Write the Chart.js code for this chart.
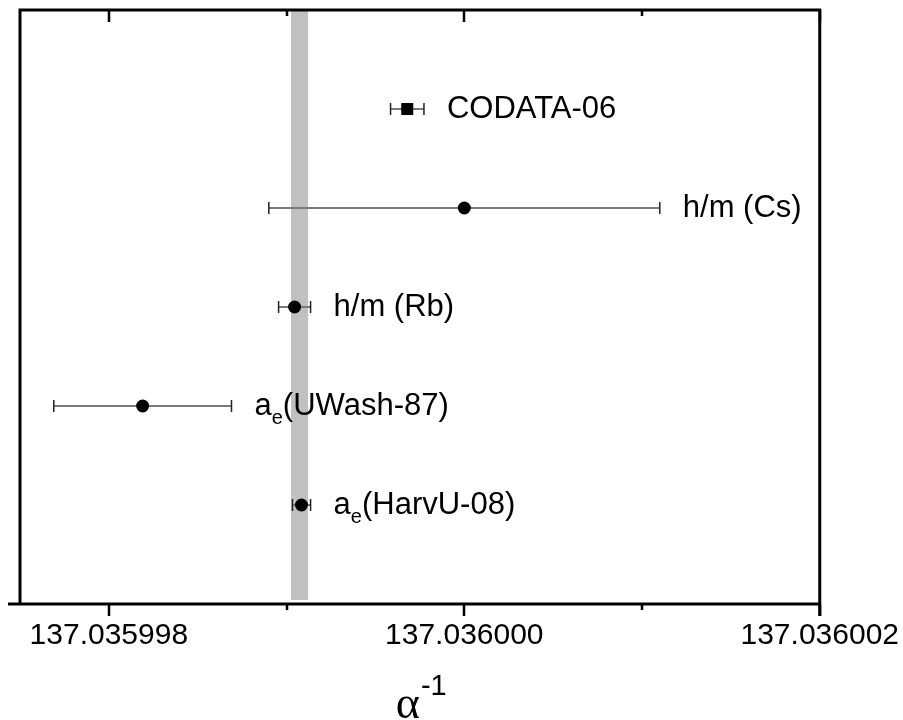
<!DOCTYPE html>
<html>
<head>
<meta charset="utf-8">
<script src="https://cdn.jsdelivr.net/npm/chart.js@4/dist/chart.umd.min.js"></script>
<style>
	body { margin: 0; background: #fff; }
	canvas { display: block; }
</style>
</head>
<body>
<canvas id="AlphaChart" width="903" height="720"></canvas>
<script>
// measurements of the inverse fine-structure constant
var Labels = ['CODATA-06', 'h/m (Cs)', 'h/m (Rb)', 'a_e(UWash-87)', 'a_e(HarvU-08)'];
var AlphaInv = [137.035999679, 137.0360000, 137.035999045, 137.03599819, 137.035999084];
var AlphaErr = [0.000000094, 0.0000011, 0.000000090, 0.00000050, 0.000000051];
var RowPos = [5, 4, 3, 2, 1];
var PointShape = ['rect', 'circle', 'circle', 'circle', 'circle'];

// shaded band
var Band = [137.035999025, 137.035999121];

// x axis
var XMin = 137.0359975;
var XMax = 137.036002;
var XTicks = [137.035998, 137.035999, 137.036000, 137.036001, 137.036002];
var XTickLabels = ['137.035998', '', '137.036000', '', '137.036002'];
var XMajor = [true, false, true, false, true];

var SansFont = '"Liberation Sans", Arial, sans-serif';

var points = [];
for (let i = 0; i < AlphaInv.length; i++) points.push({x: AlphaInv[i], y: RowPos[i]});

var decoPlugin = {
	id: 'deco',
	beforeDatasetsDraw: function(chart) {
		var ctx = chart.ctx;
		var xs = chart.scales.x, ys = chart.scales.y, area = chart.chartArea;

		// grey band
		ctx.save();
		ctx.fillStyle = '#c0c0c0';
		var b0 = xs.getPixelForValue(Band[0]), b1 = xs.getPixelForValue(Band[1]);
		ctx.fillRect(b0, area.top, b1 - b0, area.bottom - area.top - 4);

		// error bars
		for (let i = 0; i < AlphaInv.length; i++) {
			var y = ys.getPixelForValue(RowPos[i]);
			var xl = xs.getPixelForValue(AlphaInv[i] - AlphaErr[i]);
			var xr = xs.getPixelForValue(AlphaInv[i] + AlphaErr[i]);
			ctx.strokeStyle = '#7a7a7a';
			ctx.lineWidth = 2;
			ctx.beginPath();
			ctx.moveTo(xl, y); ctx.lineTo(xr, y);
			ctx.stroke();
			ctx.strokeStyle = '#222';
			ctx.lineWidth = 1.5;
			ctx.beginPath();
			ctx.moveTo(xl, y - 6); ctx.lineTo(xl, y + 6);
			ctx.moveTo(xr, y - 6); ctx.lineTo(xr, y + 6);
			ctx.stroke();
		}
		ctx.restore();
	},
	afterDatasetsDraw: function(chart) {
		var ctx = chart.ctx;
		var xs = chart.scales.x, ys = chart.scales.y, area = chart.chartArea;
		ctx.save();

		// frame: left, top, right + bottom axis
		ctx.strokeStyle = '#000';
		ctx.lineWidth = 3;
		ctx.beginPath();
		ctx.moveTo(area.left, area.bottom);
		ctx.lineTo(area.left, area.top);
		ctx.lineTo(area.right, area.top);
		ctx.lineTo(area.right, area.bottom + 12);
		ctx.moveTo(area.left - 12, area.bottom);
		ctx.lineTo(area.right, area.bottom);
		ctx.stroke();

		// tick marks (out at bottom, in at top)
		ctx.lineWidth = 2.5;
		ctx.beginPath();
		for (let i = 0; i < XTicks.length; i++) {
			var px = Math.round(xs.getPixelForValue(XTicks[i]));
			var len = XMajor[i] ? 12 : 6;
			ctx.moveTo(px, area.bottom); ctx.lineTo(px, area.bottom + len);
			ctx.moveTo(px, area.top); ctx.lineTo(px, area.top + len);
		}
		ctx.stroke();

		// point labels
		ctx.fillStyle = '#000';
		ctx.textBaseline = 'middle';
		ctx.textAlign = 'left';
		for (let i = 0; i < Labels.length; i++) {
			var y = ys.getPixelForValue(RowPos[i]);
			var x = xs.getPixelForValue(AlphaInv[i] + AlphaErr[i]) + 23;
			var parts = Labels[i].split('_');
			ctx.font = '31px ' + SansFont;
			if (parts.length == 1) {
				ctx.fillText(parts[0], x, y);
			} else {
				ctx.fillText(parts[0], x, y);
				x += ctx.measureText(parts[0]).width;
				ctx.font = '20px ' + SansFont;
				ctx.fillText(parts[1][0], x, y + 12);
				x += ctx.measureText(parts[1][0]).width;
				ctx.font = '31px ' + SansFont;
				ctx.fillText(parts[1].slice(1), x, y);
			}
		}

		// axis title: alpha^-1
		var cx = (area.left + area.right) / 2;
		ctx.textBaseline = 'alphabetic';
		ctx.textAlign = 'right';
		ctx.font = '46px "Liberation Serif", "DejaVu Serif", serif';
		ctx.fillText('\u03b1', cx, 718);
		ctx.textAlign = 'left';
		ctx.font = '29px ' + SansFont;
		ctx.fillText('-1', cx + 1, 695);
		ctx.restore();
	}
};

new Chart(document.getElementById('AlphaChart'), {
	type: 'scatter',
	data: {
		datasets: [{
			data: points,
			pointStyle: PointShape,
			pointRadius: [8.5, 6.5, 6.5, 6.5, 6.5],
			pointBackgroundColor: '#000',
			pointBorderColor: '#000',
			pointBorderWidth: 0
		}]
	},
	options: {
		responsive: false,
		animation: false,
		events: [],
		layout: { padding: { left: 20, right: 83, top: 10, bottom: 62 } },
		plugins: { legend: { display: false }, tooltip: { enabled: false } },
		scales: {
			x: {
				type: 'linear',
				min: XMin,
				max: XMax,
				afterBuildTicks: function(scale) {
					scale.ticks = XTicks.map(function(v) { return {value: v}; });
				},
				grid: { display: false, drawTicks: true, tickLength: 10 },
				border: { display: false },
				ticks: {
					autoSkip: false,
					maxRotation: 0,
					padding: 4,
					color: '#000',
					font: { family: SansFont, size: 30 },
					callback: function(value, index) { return XTickLabels[index]; }
				}
			},
			y: {
				display: false,
				min: 0,
				max: 6
			}
		}
	},
	plugins: [decoPlugin]
});
</script>
</body>
</html>
